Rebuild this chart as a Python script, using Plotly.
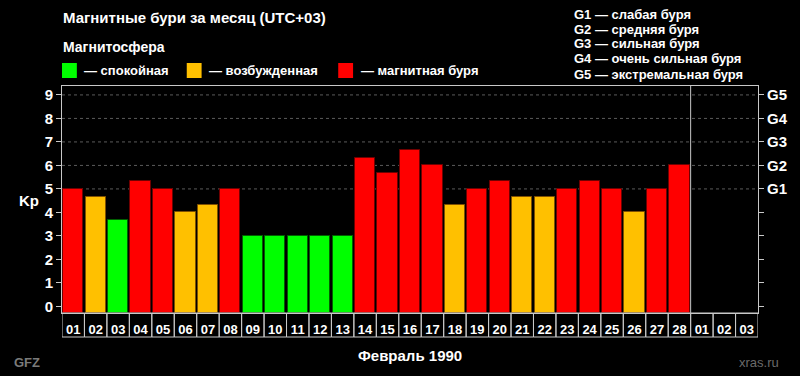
import plotly.graph_objects as go

# ---------------- data ----------------
DAY_LABELS = ["01", "02", "03", "04", "05", "06", "07", "08", "09", "10",
              "11", "12", "13", "14", "15", "16", "17", "18", "19", "20",
              "21", "22", "23", "24", "25", "26", "27", "28", "01", "02", "03"]
KP_VALUES = [5.0, 4.67, 3.67, 5.33, 5.0, 4.0, 4.33, 5.0, 3.0, 3.0,
             3.0, 3.0, 3.0, 6.33, 5.67, 6.67, 6.0, 4.33, 5.0, 5.33,
             4.67, 4.67, 5.0, 5.33, 5.0, 4.0, 5.0, 6.0]
KP_TICKS = [0, 1, 2, 3, 4, 5, 6, 7, 8, 9]
G_LEVELS = [5, 6, 7, 8, 9]
G_LABELS = ["G1", "G2", "G3", "G4", "G5"]
G_DESCRIPTIONS = ["G1 — слабая буря", "G2 — средняя буря", "G3 — сильная буря",
                  "G4 — очень сильная буря", "G5 — экстремальная буря"]
STATUS_LABELS = ["— спокойная", "— возбужденная", "— магнитная буря"]
STATUS_COLORS = ["#00ff00", "#ffc000", "#ff0000"]
STATUS_EDGES = ["#006000", "#805000", "#700000"]
TITLE = "Магнитные бури за месяц (UTC+03)"
SUBTITLE = "Магнитосфера"
MONTH_LABEL = "Февраль 1990"

# ---------------- layout helpers ----------------
W, H = 800, 376
L, R, T, B = 62, 765, 86, 313
Y_MIN, Y_MAX = -0.28, 9.38
FONT = "Liberation Sans, Arial, sans-serif"
GRAY = "#c8c8c8"


def px(x):
    return (x - L) / (R - L)


def py(y):
    return (B - y) / (B - T)


def status(v):
    if v < 4:
        return 0
    if v < 5:
        return 1
    return 2


n_days = len(DAY_LABELS)
x_all = list(range(1, n_days + 1))
x_bars = x_all[:len(KP_VALUES)]
st = [status(v) for v in KP_VALUES]

fig = go.Figure()
fig.add_trace(go.Bar(
    x=x_bars, y=[v - Y_MIN for v in KP_VALUES], base=Y_MIN,
    width=0.9,
    marker=dict(color=[STATUS_COLORS[s] for s in st],
                line=dict(color=[STATUS_EDGES[s] for s in st], width=1)),
    showlegend=False, hoverinfo="skip",
))
# invisible trace to anchor right axis
fig.add_trace(go.Scatter(x=[1], y=[0], yaxis="y2", mode="markers",
                         marker=dict(opacity=0), showlegend=False, hoverinfo="skip"))

shapes = []
# G-level grid lines
for g in G_LEVELS:
    shapes.append(dict(type="line", xref="paper", yref="y", x0=0, x1=1, y0=g, y1=g,
                       line=dict(color="#5a5a5a", width=1, dash="dot"), layer="below"))
# separator between months
shapes.append(dict(type="line", xref="x", yref="paper", x0=len(KP_VALUES) + 0.5,
                   x1=len(KP_VALUES) + 0.5, y0=0, y1=1, line=dict(color=GRAY, width=1)))
# day label boxes
box_h = (337 - B) / (B - T)
for xi in x_all:
    shapes.append(dict(type="rect", xref="x", yref="paper", x0=xi - 0.5, x1=xi + 0.5,
                       y0=-box_h, y1=0, line=dict(color=GRAY, width=1)))
# legend squares
sq_x = [62, 188, 341]
text_x = [83, 209, 363]
for i in range(3):
    shapes.append(dict(type="rect", xref="paper", yref="paper",
                       x0=px(sq_x[i]), x1=px(sq_x[i] + 15), y0=py(78), y1=py(63),
                       fillcolor=STATUS_COLORS[i], line=dict(width=0)))

annotations = []
annotations.append(dict(text=TITLE, xref="paper", yref="paper", x=px(61), y=py(18),
                        xanchor="left", yanchor="middle", showarrow=False,
                        font=dict(family=FONT, size=15, color="white", weight="bold")))
annotations.append(dict(text=SUBTITLE, xref="paper", yref="paper", x=px(61), y=py(47),
                        xanchor="left", yanchor="middle", showarrow=False,
                        font=dict(family=FONT, size=14, color="white", weight="bold")))
for i in range(3):
    annotations.append(dict(text=STATUS_LABELS[i], xref="paper", yref="paper",
                            x=px(text_x[i] - 1), y=py(70.5), xanchor="left", yanchor="middle",
                            showarrow=False,
                            font=dict(family=FONT, size=13, color="white", weight="bold")))
for i, t in enumerate(G_DESCRIPTIONS):
    annotations.append(dict(text=t, xref="paper", yref="paper", x=px(577), y=py(14 + 15 * i),
                            xanchor="left", yanchor="middle", showarrow=False,
                            font=dict(family=FONT, size=13, color="white", weight="bold")))
annotations.append(dict(text="Kp", xref="paper", yref="paper", x=px(29), y=py(200),
                        xanchor="center", yanchor="middle", showarrow=False,
                        font=dict(family=FONT, size=15, color="white", weight="bold")))
annotations.append(dict(text=MONTH_LABEL, xref="paper", yref="paper", x=px(413), y=py(355),
                        xanchor="center", yanchor="middle", showarrow=False,
                        font=dict(family=FONT, size=15, color="white", weight="bold")))
annotations.append(dict(text="GFZ", xref="paper", yref="paper", x=px(11), y=py(362),
                        xanchor="left", yanchor="middle", showarrow=False,
                        font=dict(family=FONT, size=13, color="#7a7a7a", weight="bold")))
annotations.append(dict(text="xras.ru", xref="paper", yref="paper", x=px(788), y=py(362),
                        xanchor="right", yanchor="middle", showarrow=False,
                        font=dict(family=FONT, size=13, color="#6a6a6a")))

fig.update_layout(
    width=W, height=H,
    margin=dict(l=L, r=W - R, t=T, b=H - B, pad=0),
    paper_bgcolor="black", plot_bgcolor="black",
    bargap=0,
    shapes=shapes, annotations=annotations,
    font=dict(family=FONT, color="white"),
    xaxis=dict(range=[0.5, n_days + 0.5], tickvals=x_all, ticktext=DAY_LABELS,
               showgrid=False, zeroline=False, showline=True, mirror=True,
               linecolor=GRAY, linewidth=1, ticks="", ticklabelstandoff=4,
               tickfont=dict(family=FONT, size=13, color="white", weight="bold")),
    yaxis=dict(range=[Y_MIN, Y_MAX], tickvals=KP_TICKS, ticktext=[str(v) for v in KP_TICKS],
               showgrid=False, zeroline=False, showline=True, mirror=True,
               linecolor=GRAY, linewidth=1, ticks="outside", ticklen=5, tickcolor=GRAY,
               tickfont=dict(family=FONT, size=15, color="white", weight="bold")),
    yaxis2=dict(range=[Y_MIN, Y_MAX], overlaying="y", side="right", tickvals=KP_TICKS,
                ticktext=["" if v not in G_LEVELS else G_LABELS[G_LEVELS.index(v)] for v in KP_TICKS],
                showgrid=False, zeroline=False, showline=False,
                ticks="outside", ticklen=5, tickcolor=GRAY,
                tickfont=dict(family=FONT, size=15, color="white", weight="bold")),
)

fig.write_html("out.html")
